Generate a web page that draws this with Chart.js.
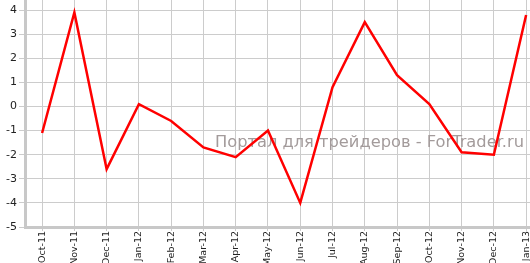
<!DOCTYPE html>
<html>
<head>
<meta charset="utf-8">
<script src="https://cdn.jsdelivr.net/npm/chart.js@4/dist/chart.umd.min.js"></script>
<style>
  html, body { margin: 0; padding: 0; overflow: hidden; background: #fff; }
  #wrap { position: relative; width: 530px; height: 270px; }
</style>
</head>
<body>
<div id="wrap"><canvas id="graph1"></canvas></div>
<script>
// months along the x axis
const months = ['Oct-11', 'Nov-11', 'Dec-11', 'Jan-12', 'Feb-12', 'Mar-12', 'Apr-12', 'May-12',
                'Jun-12', 'Jul-12', 'Aug-12', 'Sep-12', 'Oct-12', 'Nov-12', 'Dec-12', 'Jan-13'];
// values
const values = [-1.1, 3.9, -2.6, 0.1, -0.6, -1.7, -2.1, -1.0, -4.0, 0.8, 3.5, 1.3, 0.1, -1.9, -2.0, 3.8];
const yTicks = [-5, -4, -3, -2, -1, 0, 1, 2, 3, 4];
const watermark = 'Портал для трейдеров - ForTrader.ru';

const points = values.map((v, i) => ({x: i, y: v}));

// grey watermark text behind the line
const watermarkPlugin = {
    id: 'watermark',
    beforeDatasetsDraw(chart) {
        const ctx = chart.ctx;
        ctx.save();
        ctx.font = '16px "DejaVu Sans"';
        ctx.fillStyle = '#a39b9b';
        ctx.textBaseline = 'alphabetic';
        const w = ctx.measureText(watermark).width;
        ctx.translate(215, 147);
        ctx.scale(309 / w, 1);
        ctx.fillText(watermark, 0, 0);
        ctx.restore();
    }
};

const ctx = document.getElementById('graph1');
new Chart(ctx, {
    type: 'line',
    data: {
        datasets: [{
            data: points,
            borderColor: '#ff0000',
            borderWidth: 2.5,
            pointRadius: 0,
            fill: false,
            tension: 0
        }]
    },
    options: {
        responsive: true,
        maintainAspectRatio: false,
        animation: false,
        layout: { padding: 0 },
        plugins: {
            legend: { display: false },
            tooltip: { enabled: false }
        },
        scales: {
            x: {
                type: 'linear',
                min: -0.53,
                max: 15.12,
                afterBuildTicks: axis => { axis.ticks = months.map((m, i) => ({value: i})); },
                afterFit: axis => {
                    axis.height = 43;
                    axis.paddingLeft = 0;
                    axis.paddingRight = 0;
                },
                grid: { color: '#cccccc', lineWidth: 1, tickLength: 4 },
                border: { color: '#c8c8c8', width: 3 },
                ticks: {
                    autoSkip: false,
                    minRotation: 90,
                    maxRotation: 90,
                    padding: 0,
                    color: '#222',
                    font: { family: 'DejaVu Sans', size: 9.5 },
                    callback: v => months[v]
                }
            },
            y: {
                min: -5,
                max: 4.42,
                afterBuildTicks: axis => { axis.ticks = yTicks.map(v => ({value: v})); },
                afterFit: axis => {
                    axis.width = 25;
                    axis.paddingTop = 0;
                    axis.paddingBottom = 0;
                },
                grid: { color: '#cccccc', lineWidth: 1, tickLength: 6 },
                border: { color: '#c8c8c8', width: 3 },
                ticks: {
                    padding: 2,
                    color: '#222',
                    font: { family: 'DejaVu Sans', size: 11 }
                }
            }
        }
    },
    plugins: [watermarkPlugin]
});
</script>
</body>
</html>
